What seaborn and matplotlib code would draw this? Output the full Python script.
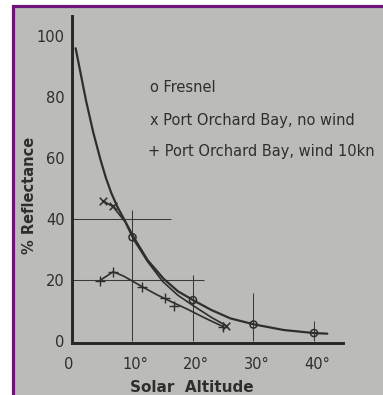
import matplotlib
matplotlib.use("Agg")
import matplotlib.pyplot as plt
import pandas as pd
import seaborn as sns
from matplotlib.patches import Rectangle
from matplotlib.transforms import ScaledTranslation

# Fresnel reflectance curve (solar altitude in degrees, % reflectance)
fresnel_curve_alt = [0.6, 2.3, 3.5, 4.7, 5.6, 6.5, 7.5, 8.5, 10.2, 12.5, 15.1, 17.5, 20.2, 23.0, 26.2, 30.2, 35.0, 40.0, 42.2]
fresnel_curve_pct = [96, 79, 68.5, 59.5, 53.5, 48.5, 44, 40.3, 34, 26.5, 20.5, 16.3, 13.2, 10.2, 7.4, 5.4, 3.6, 2.6, 2.4]
fresnel_mark_alt = [10, 20, 30, 40]
fresnel_mark_pct = [34, 13.4, 5.4, 2.6]

# Port Orchard Bay, no wind
nowind_curve_alt = [5.1, 6.8, 8.8, 10.1, 12.5, 15.0, 17.5, 20.1, 23.0, 25.5]
nowind_curve_pct = [46, 44, 39, 33.5, 26, 19.5, 15, 11.5, 7.8, 5.0]
nowind_mark_alt = [5.1, 6.8, 25.5]
nowind_mark_pct = [46, 44.2, 5.0]

# Port Orchard Bay, wind 10 knots
wind_curve_alt = [4.6, 6.8, 8.5, 10.2, 11.6, 14.0, 16.5, 19.0, 22.0, 25.0]
wind_curve_pct = [19.8, 22.7, 21.3, 19.4, 17.8, 15.2, 12.8, 10.5, 7.5, 4.7]
wind_mark_alt = [4.6, 6.8, 11.6, 15.4, 16.8, 25.0]
wind_mark_pct = [19.8, 22.7, 17.8, 14.0, 11.6, 4.7]

# partial reference lines
hline_y = [40, 20]
hline_end = [16.4, 21.9]
vline_x = [10, 20, 30, 40]
vline_top = [43, 21.6, 15.7, 6.5]

yticks = [0, 20, 40, 60, 80, 100]
xticks = [0, 10, 20, 30, 40]
xtick_labels = ["0", "10°", "20°", "30°", "40°"]

legend_lines = ["o Fresnel", "x Port Orchard Bay, no wind", "+ Port Orchard Bay, wind 10kn"]

sns.set_style("white")
plt.rcParams["font.family"] = ["DejaVu Sans"]

INK = "#2e2e2e"
BG = "#bbbbb7"
W, H = 383, 395
fig = plt.figure(figsize=(W / 100, H / 100), dpi=100)
fig.patch.set_facecolor("white")

# grey sheet with a purple frame
fig.patches.append(Rectangle((12.5 / W, -0.1), 1.2, 1.1 - 5.5 / H,
                             transform=fig.transFigure, facecolor=BG,
                             edgecolor="#6c1577", linewidth=2.3, zorder=-10))

# axes placed so that 0 deg -> x=72 px, 0 % -> y=341 px
left_px, right_px, top_px, bot_px = 40, 360, 12, 350
ax = fig.add_axes([left_px / W, (H - bot_px) / H,
                   (right_px - left_px) / W, (bot_px - top_px) / H])
ax.patch.set_alpha(0)
px_deg, px_pct = 6.05, 3.05
ax.set_xlim((left_px - 72) / px_deg, (right_px - 72) / px_deg)
ax.set_ylim((341 - bot_px) / px_pct, (341 - top_px) / px_pct)

lw_thin = 0.75
ax.hlines(hline_y, 0, hline_end, color="#3a3a3a", lw=lw_thin)
ax.vlines(vline_x, 0, vline_top, color="#3a3a3a", lw=lw_thin)

fres = pd.DataFrame({"alt": fresnel_curve_alt, "pct": fresnel_curve_pct})
nowind = pd.DataFrame({"alt": nowind_curve_alt, "pct": nowind_curve_pct})
wind = pd.DataFrame({"alt": wind_curve_alt, "pct": wind_curve_pct})
sns.lineplot(data=fres, x="alt", y="pct", ax=ax, color=INK, lw=1.6, sort=False, estimator=None)
sns.lineplot(data=nowind, x="alt", y="pct", ax=ax, color=INK, lw=1.2, sort=False, estimator=None)
sns.lineplot(data=wind, x="alt", y="pct", ax=ax, color=INK, lw=1.2, sort=False, estimator=None)

sns.scatterplot(x=fresnel_mark_alt, y=fresnel_mark_pct, ax=ax, marker="o", s=26,
                facecolor="none", edgecolor=INK, linewidth=1.1, zorder=5)
sns.scatterplot(x=nowind_mark_alt, y=nowind_mark_pct, ax=ax, marker="x", s=30,
                color=INK, linewidth=1.1, zorder=5)
sns.scatterplot(x=wind_mark_alt, y=wind_mark_pct, ax=ax, marker="+", s=45,
                color=INK, linewidth=1.0, zorder=5)

# axis lines
for side in ("top", "right"):
    ax.spines[side].set_visible(False)
ax.spines["left"].set_position(("data", -0.05))
ax.spines["left"].set_bounds(-0.7, 106.4)
ax.spines["bottom"].set_position(("data", -0.7))
ax.spines["bottom"].set_bounds(-0.05, 44.8)
for side in ("left", "bottom"):
    ax.spines[side].set_linewidth(2.1)
    ax.spines[side].set_color("#262626")

ax.set_yticks(yticks)
ax.set_yticklabels([str(v) for v in yticks])
ax.set_xticks(xticks)
ax.set_xticklabels(xtick_labels)
ax.tick_params(axis="y", direction="in", length=9, width=1.1, color=INK,
               pad=5, labelsize=10.5, labelcolor=INK)
ax.tick_params(axis="x", length=0, pad=10, labelsize=10.5, labelcolor=INK)
xlabs = ax.get_xticklabels()
xlabs[0].set_transform(xlabs[0].get_transform() + ScaledTranslation(-3 / 100, 0, fig.dpi_scale_trans))
for lab in xlabs[1:]:
    lab.set_transform(lab.get_transform() + ScaledTranslation(3 / 100, 0, fig.dpi_scale_trans))

ax.set_xlabel("Solar  Altitude", fontsize=11, color=INK, fontweight="bold")
ax.xaxis.set_label_coords((192 - left_px) / (right_px - left_px), (bot_px - 387) / (bot_px - top_px))
ax.xaxis.label.set_va("center")
ax.set_ylabel("% Reflectance", fontsize=10.5, color=INK, fontweight="bold")
ax.yaxis.set_label_coords((30 - left_px) / (right_px - left_px), (bot_px - 195) / (bot_px - top_px))
ax.yaxis.label.set_va("center")

for (txt, xpx, ypx) in zip(legend_lines, [150, 150, 148], [88, 121, 152]):
    ax.text((xpx - 72) / px_deg, (341 - ypx) / px_pct, txt, fontsize=10.5,
            color=INK, ha="left", va="center", clip_on=False)

fig.savefig("out.png", dpi=100)
